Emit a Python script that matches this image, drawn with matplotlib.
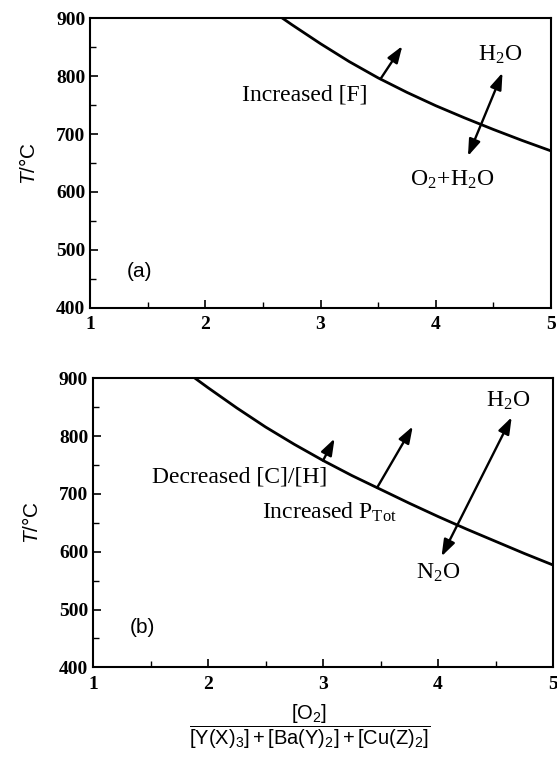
import matplotlib
matplotlib.use('Agg')
import matplotlib.pyplot as plt
from matplotlib.ticker import MultipleLocator

plt.rcParams['mathtext.fontset'] = 'custom'
plt.rcParams['mathtext.rm'] = 'Liberation Sans'
plt.rcParams['mathtext.it'] = 'Liberation Sans:italic'

# boundary curves
x_a = [2.67, 2.75, 3.0, 3.25, 3.5, 3.75, 4.0, 4.25, 4.5, 4.75, 5.0]
t_a = [900, 889, 856, 825, 797, 772, 749, 728, 708, 689, 671]
x_b = [1.89, 2.0, 2.25, 2.5, 2.75, 3.0, 3.25, 3.5, 3.75, 4.0, 4.25, 4.5, 4.75, 5.0]
t_b = [900, 884, 849, 816, 786, 758, 732, 708, 684, 661, 639, 618, 597, 577]

# arrows: (x0, t0, x1, t1)
arrows_a = [(3.52, 795, 3.71, 852)]
double_a = [(4.28, 662, 4.58, 806)]
arrows_b = [(3.0, 758, 3.10, 796), (3.47, 711, 3.78, 817)]
double_b = [(4.03, 592, 4.64, 833)]

SERIF = 'Liberation Serif'
SANS = 'Liberation Sans'


def setup(ax):
    ax.set_xlim(1, 5)
    ax.set_ylim(400, 900)
    ax.xaxis.set_major_locator(MultipleLocator(1))
    ax.xaxis.set_minor_locator(MultipleLocator(0.5))
    ax.yaxis.set_major_locator(MultipleLocator(100))
    ax.yaxis.set_minor_locator(MultipleLocator(50))
    ax.tick_params(which='both', direction='in', top=False, right=False)
    ax.tick_params(which='major', length=6, width=1.2)
    ax.tick_params(which='minor', length=4, width=1.0)
    ax.tick_params(axis='x', pad=6)
    for s in ax.spines.values():
        s.set_linewidth(1.5)
    for lab in ax.get_xticklabels() + ax.get_yticklabels():
        lab.set_fontfamily(SERIF)
        lab.set_fontweight('bold')
        lab.set_fontsize(14)
    ax.set_ylabel(r'$T$/°C', fontfamily=SANS, fontsize=15, labelpad=12)


def arrow(ax, x0, t0, x1, t1, both=False):
    style = '<|-|>' if both else '-|>'
    ax.annotate('', xy=(x1, t1), xytext=(x0, t0),
                arrowprops=dict(arrowstyle=style + ',head_length=1.0,head_width=0.35',
                                color='black', lw=1.7, shrinkA=0, shrinkB=0))


fig = plt.figure(figsize=(5.57, 7.6), dpi=100)
ax1 = fig.add_axes([0.162, 0.595, 0.827, 0.381])
ax2 = fig.add_axes([0.167, 0.122, 0.826, 0.380])

# panel (a)
setup(ax1)
ax1.plot(x_a, t_a, color='black', lw=2.0)
for a in arrows_a:
    arrow(ax1, *a)
for a in double_a:
    arrow(ax1, *a, both=True)
ax1.text(3.41, 767, 'Increased [F]', ha='right', va='center',
         fontfamily=SERIF, fontsize=17)
ax1.text(4.56, 836, r'H$_\mathregular{2}$O', ha='center', va='center',
         fontfamily=SERIF, fontsize=17, math_fontfamily='stix')
ax1.text(4.15, 621, r'O$_\mathregular{2}$+H$_\mathregular{2}$O', ha='center', va='center',
         fontfamily=SERIF, fontsize=17, math_fontfamily='stix')
ax1.text(1.43, 462, '(a)', ha='center', va='center', fontfamily=SANS, fontsize=15)

# panel (b)
setup(ax2)
ax2.plot(x_b, t_b, color='black', lw=2.0)
for a in arrows_b:
    arrow(ax2, *a)
for a in double_b:
    arrow(ax2, *a, both=True)
ax2.text(3.04, 729, 'Decreased [C]/[H]', ha='right', va='center',
         fontfamily=SERIF, fontsize=17)
ax2.text(3.64, 668, r'Increased P$_\mathregular{Tot}$', ha='right', va='center',
         fontfamily=SERIF, fontsize=17, math_fontfamily='stix')
ax2.text(4.61, 862, r'H$_\mathregular{2}$O', ha='center', va='center',
         fontfamily=SERIF, fontsize=17, math_fontfamily='stix')
ax2.text(4.0, 564, r'N$_\mathregular{2}$O', ha='center', va='center',
         fontfamily=SERIF, fontsize=17, math_fontfamily='stix')
ax2.text(1.43, 469, '(b)', ha='center', va='center', fontfamily=SANS, fontsize=15)

fig.text(310 / 557, 1 - 727 / 760,
         r'$\dfrac{[\mathrm{O_2}]}{[\mathrm{Y(X)_3}]+[\mathrm{Ba(Y)_2}]+[\mathrm{Cu(Z)_2}]}$',
         ha='center', va='center', fontsize=14.5)

fig.savefig('out.png', dpi=100)
